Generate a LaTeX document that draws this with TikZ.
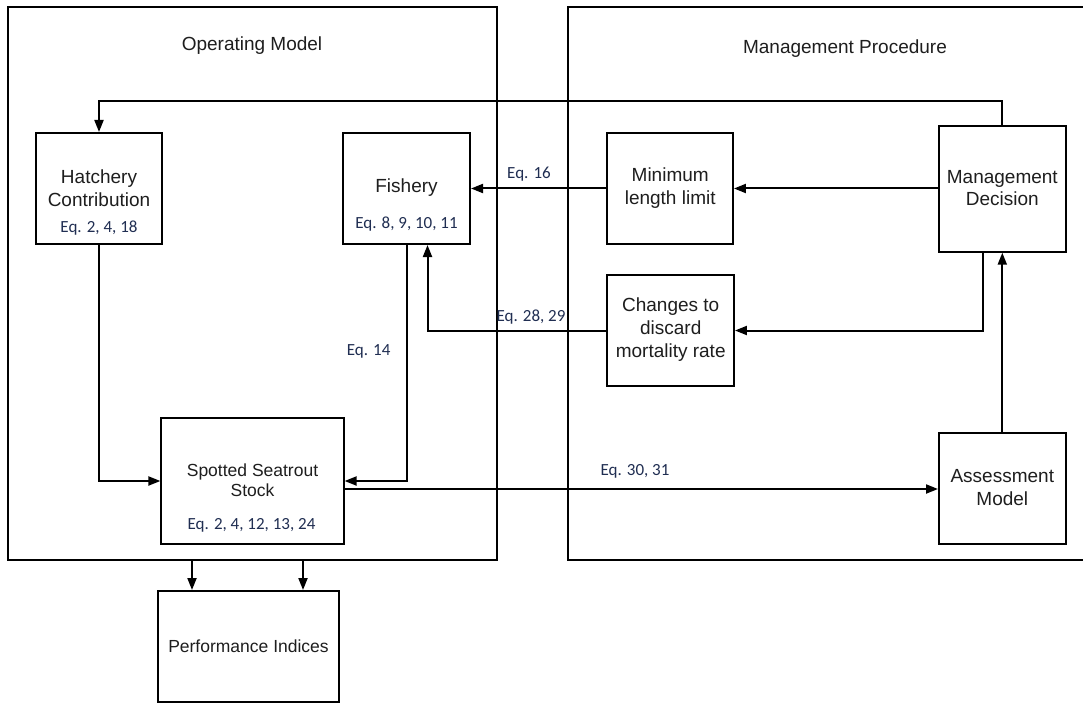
\documentclass[tikz,border=0pt]{standalone}
\usepackage{fontspec}
\setmainfont{Liberation Sans}
\newfontfamily\eqfont{Carlito}
\usetikzlibrary{arrows.meta}
\definecolor{txtc}{RGB}{30,30,30}
\definecolor{eqc}{RGB}{32,46,82}
\begin{document}
\begin{tikzpicture}[x=1pt,y=-1pt,
  box/.style={draw=black, line width=2pt, inner sep=0pt},
  frameline/.style={draw=black, line width=2pt},
  arr/.style={draw=black, line width=2pt, -{Triangle[length=12pt,width=9pt]}},
  lbl/.style={font=\fontsize{19}{22.5}\selectfont, text=txtc, align=center, inner sep=0pt},
  lblsmall/.style={lbl, font=\fontsize{17.5}{20.3}\selectfont},
  eqlbl/.style={font=\eqfont\fontsize{17}{20}\selectfont, text=eqc, inner sep=0pt}]
\useasboundingbox (0,0) rectangle (1083,703);
\fill[white] (0,0) rectangle (1083,703);

% frames
\node[box, minimum width=489pt, minimum height=553pt] (om) at (252.5,283.5) {};
\coordinate (mptl) at (568,7);
\coordinate (mpbl) at (568,560);
\draw[frameline] (1085,7) -- (mptl) -- (mpbl) -- (1085,560);
\node[lbl] (omtitle) at (252,46) {Operating Model};
\node[lbl] (mptitle) at (845,49) {Management Procedure};

% boxes
\node[box, minimum width=126pt, minimum height=111pt] (hatch) at (99,188.5) {};
\node[box, minimum width=127pt, minimum height=111pt] (fish) at (406.5,188.5) {};
\node[box, minimum width=125.5pt, minimum height=111pt] (minlen) at (670.2,188.5) {};
\node[box, minimum width=126.6pt, minimum height=126pt] (mdec) at (1002.3,188.7) {};
\node[box, minimum width=126.5pt, minimum height=111pt] (chg) at (670.7,330.5) {};
\node[box, minimum width=182.2pt, minimum height=126pt] (stock) at (252.5,481) {};
\node[box, minimum width=126.6pt, minimum height=111pt] (assess) at (1002.3,488.5) {};
\node[box, minimum width=181.6pt, minimum height=111pt] (perf) at (248.5,646.5) {};

% texts
\node[lbl] (hatchtxt) at (99,188) {Hatchery\\Contribution};
\node[eqlbl] (hatcheq) at (99,228) {Eq. 2, 4, 18};
\node[lbl] (fishtxt) at (406.5,188) {Fishery};
\node[eqlbl] (fisheq) at (406.5,224) {Eq. 8, 9, 10, 11};
\node[lbl] (minlentxt) at (670.2,188) {Minimum\\length limit};
\node[lbl] (mdectxt) at (1002.3,188) {Management\\Decision};
\node[lbl, font=\fontsize{19}{23}\selectfont] (chgtxt) at (670.7,330) {Changes to\\discard\\mortality rate};
\node[lblsmall] (stocktxt) at (252.5,480) {Spotted Seatrout\\Stock};
\node[eqlbl] (stockeq) at (251.5,525) {Eq. 2, 4, 12, 13, 24};
\node[lbl, font=\fontsize{19}{23}\selectfont] (assesstxt) at (1002.3,487.5) {Assessment\\Model};
\node[lblsmall] (perftxt) at (248.5,646) {Performance Indices};

% connectors
\coordinate (topy) at (0,100.7);
\draw[arr] (mdec.north) -- (mdec.north |- topy) -| (hatch.north);
\draw[arr] (mdec.west |- minlen.east) -- (minlen.east);
\draw[arr] (minlen.west) -- (fish.east);
\draw[arr] ([xshift=-19pt]mdec.south) |- (chg.east);
\draw[arr] (chg.west) -| ([xshift=21pt]fish.south);
\draw[arr] (assess.north) -- (mdec.south);
\draw[arr] (hatch.south) |- (stock.west);
\draw[arr] (fish.south) |- (stock.east);
\draw[arr] ([yshift=-8pt]stock.east) -- ([yshift=-8pt]stock.east -| assess.west);
\coordinate (pa) at (192,560);
\coordinate (pb) at (303,560);
\draw[arr] (pa) -- (pa |- perf.north);
\draw[arr] (pb) -- (pb |- perf.north);

% connector labels
\node[eqlbl] (eq16) at (529,174) {Eq. 16};
\node[eqlbl] (eq2829) at (531,317) {Eq. 28, 29};
\node[eqlbl] (eq14) at (368.6,351) {Eq. 14};
\node[eqlbl] (eq3031) at (635,471) {Eq. 30, 31};
\end{tikzpicture}
\end{document}
